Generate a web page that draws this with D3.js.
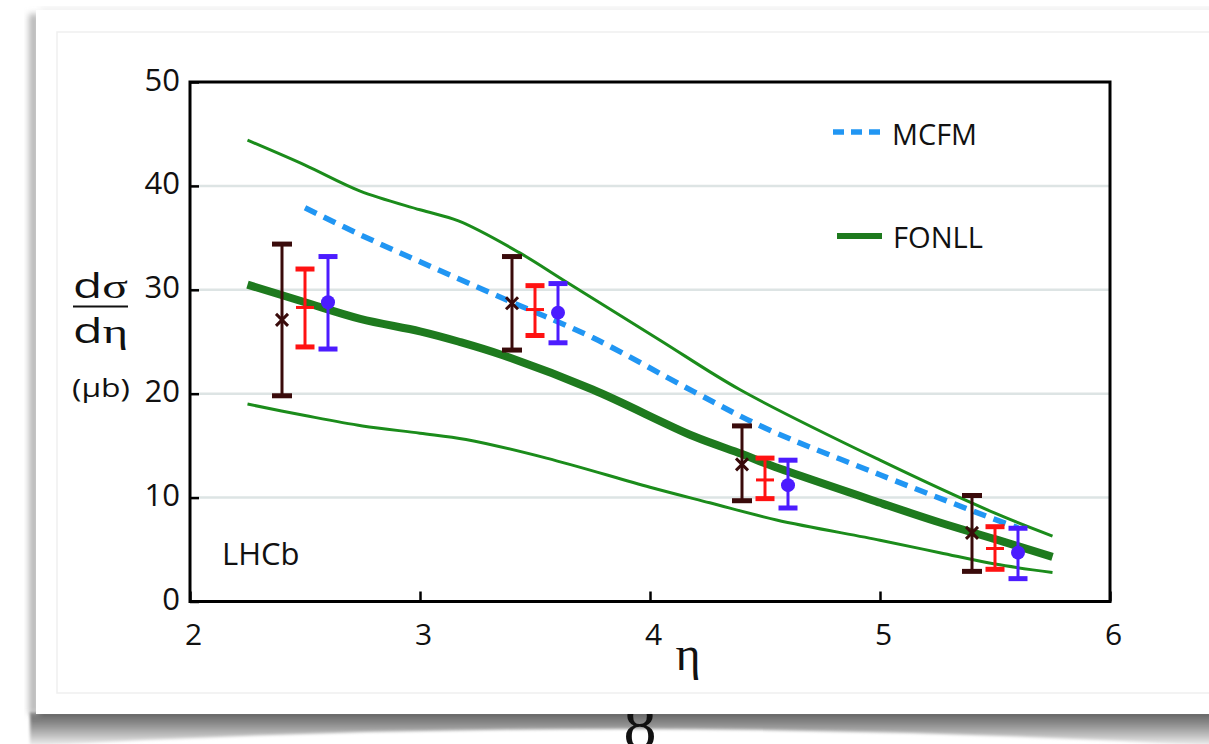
<!DOCTYPE html>
<html>
<head>
<meta charset="utf-8">
<script src="https://cdn.jsdelivr.net/npm/d3@7"></script>
<style>
  body { margin: 0; background: #fff; }
  svg { display: block; }
  .tick text { font-family: "Open Sans", sans-serif; fill: #111; }
</style>
</head>
<body>
<div id="chart"></div>
<script>
// axis ticks
var etaTicks = [2, 3, 4, 5, 6];
var valTicks = [0, 10, 20, 30, 40, 50];
var gridVals = [10, 20, 30, 40];

// theory curves [eta, dsigma/deta]
var fonllCentral = [[2.25,30.5],[2.5,28.8],[2.74,27.2],[3.0,26.0],[3.17,25.0],[3.36,23.7],[3.75,20.4],[4.19,15.9],[4.4,14.2],[4.5,13.3],[5.0,9.5],[5.26,7.6],[5.5,6.0],[5.75,4.3]];
var fonllUpper = [[2.25,44.4],[2.5,42.0],[2.74,39.5],[3.0,37.7],[3.17,36.6],[3.43,33.6],[3.64,30.7],[4.04,25.2],[4.39,20.4],[5.0,13.6],[5.5,8.5],[5.75,6.3]];
var fonllLower = [[2.25,19.0],[2.5,17.9],[2.75,16.9],[3.0,16.2],[3.2,15.6],[3.55,13.8],[4.0,11.0],[4.26,9.5],[4.55,7.85],[5.0,5.9],[5.26,4.7],[5.5,3.6],[5.75,2.8]];
var mcfm = [[2.5,37.9],[2.74,35.3],[3.0,32.7],[3.39,28.9],[3.75,25.4],[4.19,20.2],[4.5,16.7],[5.0,12.2],[5.5,7.9],[5.6,7.1]];

// measurements: eta, value, upper, lower
var brownEta = [2.4, 3.4, 4.4, 5.4];
var brownVal = [27.1, 28.7, 13.2, 6.6];
var brownHi  = [34.4, 33.2, 16.9, 10.2];
var brownLo  = [19.8, 24.2, 9.7, 2.9];

var redEta = [2.5, 3.5, 4.5, 5.5];
var redVal = [28.3, 28.1, 11.7, 5.1];
var redHi  = [32.0, 30.4, 13.8, 7.2];
var redLo  = [24.5, 25.6, 9.9, 3.1];

var blueEta = [2.6, 3.6, 4.6, 5.6];
var blueVal = [28.8, 27.8, 11.2, 4.7];
var blueHi  = [33.2, 30.6, 13.6, 7.05];
var blueLo  = [24.3, 24.9, 9.0, 2.2];

var W = 1209, H = 744;

var svg = d3.select("#chart").append("svg")
  .attr("width", W)
  .attr("height", H);

var defs = svg.append("defs");
defs.append("filter").attr("id", "blur").attr("x", "-10%").attr("y", "-50%").attr("width", "120%").attr("height", "200%")
  .append("feGaussianBlur").attr("stdDeviation", 1.8);
defs.append("filter").attr("id", "blurSoft").attr("x", "-50%").attr("y", "-10%").attr("width", "200%").attr("height", "120%")
  .append("feGaussianBlur").attr("stdDeviation", 3);
var grad = defs.append("linearGradient").attr("id", "shadeGrad")
  .attr("x1", 0).attr("y1", 0).attr("x2", 0).attr("y2", 1);
grad.append("stop").attr("offset", "0%").attr("stop-color", "#5e5e5e");
grad.append("stop").attr("offset", "45%").attr("stop-color", "#9a9a9a");
grad.append("stop").attr("offset", "100%").attr("stop-color", "#f2f2f2");

// page shadows
svg.append("path")
  .attr("d", "M30,712 L1215,712 L1215,746 Q620,712 30,746 Z")
  .attr("fill", "url(#shadeGrad)")
  .attr("filter", "url(#blur)");
svg.append("rect")
  .attr("x", 29).attr("y", 14).attr("width", 10).attr("height", 700)
  .attr("fill", "#b8b8b8")
  .attr("filter", "url(#blurSoft)");
svg.append("rect")
  .attr("x", 40).attr("y", 7).attr("width", 1180).attr("height", 6)
  .attr("fill", "#eeeeee")
  .attr("filter", "url(#blurSoft)");

// page number peeking out below
svg.append("text")
  .attr("x", 640).attr("y", 748)
  .attr("text-anchor", "middle")
  .style("font-family", "Liberation Serif, serif")
  .style("font-size", "66px")
  .style("fill", "#111")
  .text("8");

// card
svg.append("rect")
  .attr("x", 36).attr("y", 10).attr("width", 1200).attr("height", 704)
  .attr("fill", "#fff");
svg.append("rect")
  .attr("x", 57).attr("y", 32).attr("width", 1200).attr("height", 661)
  .attr("fill", "#fff")
  .attr("stroke", "#efefef")
  .attr("stroke-width", 1.5);

var x = d3.scaleLinear().domain([2, 6]).range([190, 1110]);
var y = d3.scaleLinear().domain([0, 50]).range([601.5, 82]);

// grid
svg.append("g").selectAll("line")
  .data(gridVals)
  .enter()
  .append("line")
    .attr("x1", x(2)).attr("x2", x(6))
    .attr("y1", function(d) { return y(d); })
    .attr("y2", function(d) { return y(d); })
    .style("stroke", "#dde4e4")
    .style("stroke-width", 2.5);

// axes
var xAxis = svg.append("g")
  .attr("transform", "translate(0," + y(0) + ")")
  .call(d3.axisBottom(x).tickValues(etaTicks).tickSize(-10).tickPadding(22).tickFormat(d3.format("d")));
xAxis.select(".domain").remove();
xAxis.selectAll(".tick line").style("stroke", "#000").style("stroke-width", 2.5);
xAxis.selectAll(".tick text").style("font-size", "30px").attr("dx", "0.1em");

var yAxis = svg.append("g")
  .attr("transform", "translate(" + x(2) + ",0)")
  .call(d3.axisLeft(y).tickValues(valTicks).tickSize(-9).tickPadding(10).tickFormat(d3.format("d")));
yAxis.select(".domain").remove();
yAxis.selectAll(".tick line").style("stroke", "#000").style("stroke-width", 2.5);
yAxis.selectAll(".tick text").style("font-size", "31px").attr("dy", "0.26em");

// curves
var line = d3.line()
  .x(function(d) { return x(d[0]); })
  .y(function(d) { return y(d[1]); })
  .curve(d3.curveCatmullRom.alpha(0.5));

svg.append("path").datum(fonllUpper).attr("d", line)
  .style("fill", "none").style("stroke", "#1b8c1b").style("stroke-width", 3);
svg.append("path").datum(fonllLower).attr("d", line)
  .style("fill", "none").style("stroke", "#1b8c1b").style("stroke-width", 3);
svg.append("path").datum(fonllCentral).attr("d", line)
  .style("fill", "none").style("stroke", "#1e7a1e").style("stroke-width", 8);
svg.append("path").datum(mcfm).attr("d", line)
  .style("fill", "none").style("stroke", "#2196f3").style("stroke-width", 5.5)
  .style("stroke-dasharray", "13,8");

// error bars
function errorBars(etas, vals, his, los, color, capW, marker) {
  var g = svg.append("g");
  var pts = etas.map(function(e, i) { return {eta: e, v: vals[i], hi: his[i], lo: los[i]}; });
  var sel = g.selectAll("g").data(pts).enter().append("g");
  sel.append("line")
    .attr("x1", function(d) { return x(d.eta); })
    .attr("x2", function(d) { return x(d.eta); })
    .attr("y1", function(d) { return y(d.hi); })
    .attr("y2", function(d) { return y(d.lo); })
    .style("stroke", color).style("stroke-width", 3);
  ["hi", "lo"].forEach(function(k) {
    sel.append("line")
      .attr("x1", function(d) { return x(d.eta) - capW / 2; })
      .attr("x2", function(d) { return x(d.eta) + capW / 2; })
      .attr("y1", function(d) { return y(d[k]); })
      .attr("y2", function(d) { return y(d[k]); })
      .style("stroke", color).style("stroke-width", 5);
  });
  if (marker == "x") {
    sel.append("path")
      .attr("d", function(d) {
        var cx = x(d.eta), cy = y(d.v), s = 6;
        return "M" + (cx - s) + "," + (cy - s) + "L" + (cx + s) + "," + (cy + s) +
               "M" + (cx - s) + "," + (cy + s) + "L" + (cx + s) + "," + (cy - s);
      })
      .style("stroke", color).style("stroke-width", 3);
  } else if (marker == "bar") {
    sel.append("line")
      .attr("x1", function(d) { return x(d.eta) - 9; })
      .attr("x2", function(d) { return x(d.eta) + 9; })
      .attr("y1", function(d) { return y(d.v); })
      .attr("y2", function(d) { return y(d.v); })
      .style("stroke", color).style("stroke-width", 3);
  } else {
    sel.append("circle")
      .attr("cx", function(d) { return x(d.eta); })
      .attr("cy", function(d) { return y(d.v); })
      .attr("r", 7)
      .style("fill", color);
  }
}

errorBars(brownEta, brownVal, brownHi, brownLo, "#3a0b0b", 20, "x");
errorBars(redEta, redVal, redHi, redLo, "#ff1212", 19, "bar");
errorBars(blueEta, blueVal, blueHi, blueLo, "#4c1cff", 19, "dot");

// frame
svg.append("rect")
  .attr("x", x(2)).attr("y", y(50))
  .attr("width", x(6) - x(2)).attr("height", y(0) - y(50))
  .style("fill", "none").style("stroke", "#000").style("stroke-width", 3);

// legend
var legendFont = "Open Sans, sans-serif";
svg.append("line")
  .attr("x1", 833).attr("x2", 882).attr("y1", 132).attr("y2", 132)
  .style("stroke", "#2196f3").style("stroke-width", 5.5).style("stroke-dasharray", "11,7");
svg.append("text")
  .attr("x", 892).attr("y", 145)
  .style("font-family", legendFont).style("font-size", "30px").style("fill", "#111")
  .attr("textLength", 85).attr("lengthAdjust", "spacingAndGlyphs")
  .text("MCFM");
svg.append("line")
  .attr("x1", 837).attr("x2", 882).attr("y1", 236).attr("y2", 236)
  .style("stroke", "#1e7a1e").style("stroke-width", 6);
svg.append("text")
  .attr("x", 893).attr("y", 248)
  .style("font-family", legendFont).style("font-size", "30px").style("fill", "#111")
  .attr("textLength", 90).attr("lengthAdjust", "spacingAndGlyphs")
  .text("FONLL");

// LHCb label
svg.append("text")
  .attr("x", 222).attr("y", 565)
  .style("font-family", legendFont).style("font-size", "31px").style("fill", "#111")
  .text("LHCb");

// y label
var yl = svg.append("text")
  .attr("x", 73).attr("y", 298)
  .style("font-size", "34px").style("fill", "#111")
  .attr("textLength", 55).attr("lengthAdjust", "spacingAndGlyphs");
yl.append("tspan").style("font-family", legendFont).text("d");
yl.append("tspan").style("font-family", "Liberation Serif, serif").text("σ");
svg.append("line")
  .attr("x1", 73).attr("x2", 128).attr("y1", 306.5).attr("y2", 306.5)
  .style("stroke", "#111").style("stroke-width", 2);
var yl2 = svg.append("text")
  .attr("x", 73).attr("y", 343)
  .style("font-size", "34px").style("fill", "#111")
  .attr("textLength", 55).attr("lengthAdjust", "spacingAndGlyphs");
yl2.append("tspan").style("font-family", legendFont).text("d");
yl2.append("tspan").style("font-family", "Liberation Serif, serif").text("η");
svg.append("text")
  .attr("x", 72).attr("y", 397)
  .style("font-family", legendFont).style("font-size", "26px").style("fill", "#111")
  .attr("textLength", 58).attr("lengthAdjust", "spacingAndGlyphs")
  .text("(μb)");

// x label
svg.append("text")
  .attr("x", 688).attr("y", 670)
  .attr("text-anchor", "middle")
  .style("font-family", "Liberation Serif, serif").style("font-size", "48px").style("fill", "#111")
  .text("η");
</script>
</body>
</html>
